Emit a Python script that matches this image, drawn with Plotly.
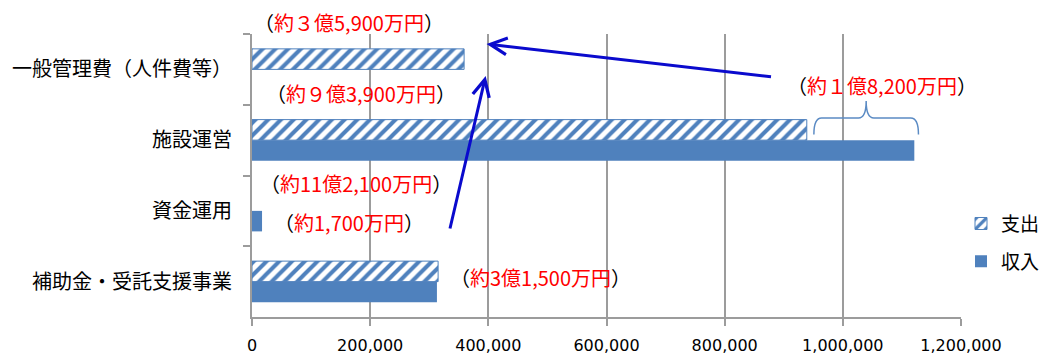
import plotly.graph_objects as go

# ---- data (thousand yen) ----
categories = ["一般管理費（人件費等）", "施設運営", "資金運用", "補助金・受託支援事業"]
expense = [359000, 939000, None, 315000]      # 支出
income = [None, 1121000, 17000, 313000]       # 収入
x_tick_vals = [0, 200000, 400000, 600000, 800000, 1000000, 1200000]
x_tick_text = ["0", "200,000", "400,000", "600,000", "800,000", "1,000,000", "1,200,000"]
note_texts = ["約３億5,900万円", "約９億3,900万円", "約11億2,100万円",
              "約1,700万円", "約3億1,500万円", "約１億8,200万円"]

BLUE = "#4F81BD"
ARROW = "#0A0ACD"
GRID = "#9C9C9C"
RED = "#FF0000"

fig = go.Figure()
fig.add_trace(go.Bar(
    name="支出", y=categories, x=expense, orientation="h",
    marker=dict(color="white", line=dict(color=BLUE, width=1),
                pattern=dict(shape="/", fgcolor=BLUE, bgcolor="white",
                             size=9, solidity=0.45, fillmode="replace")),
    legendgroup="a",
))
fig.add_trace(go.Bar(
    name="収入", y=categories, x=income, orientation="h",
    marker=dict(color=BLUE, line=dict(color=BLUE, width=0)),
    legendgroup="b",
))

# annotation placements (x in data units; y in category index units or paper)
note_pos = [
    (164000, 1.039, "paper"),
    (184500, 0.334, "y"),
    (176000, 1.606, "y"),
    (164000, 2.171, "y"),
    (489000, 2.935, "y"),
    (1066000, 0.221, "y"),
]
annotations = []
for txt, (ax_, ay_, yr) in zip(note_texts, note_pos):
    annotations.append(dict(
        x=ax_, y=ay_, xref="x", yref=yr, showarrow=False,
        text=f"（<span style='color:{RED}'>{txt}</span>）",
        font=dict(family="Noto Sans CJK JP", size=20, color="#000000"),
        xanchor="center", yanchor="middle",
    ))

# arrows: (head_x, head_y, tail_x, tail_y)
arrows = [
    (397000, -0.359, 881000, 0.108),
    (395500, 0.094, 334500, 2.270),
]
for hx, hy, tx, ty in arrows:
    annotations.append(dict(
        x=hx, y=hy, xref="x", yref="y", ax=tx, ay=ty, axref="x", ayref="y",
        text="", showarrow=True, arrowhead=5, arrowsize=1.1, arrowwidth=3,
        arrowcolor=ARROW, standoff=0, startstandoff=0,
    ))

# brace spanning from expense end to income end of 施設運営
bx0 = expense[1] + 12000
bx1 = income[1] + 7000
bm = (bx0 + bx1) / 2
r = 13000
yb, yh, yp = 0.645, 0.703, 0.763
brace = (f"M {bx0},{yb} Q {bx0},{yh} {bx0 + r},{yh} L {bm - r},{yh} "
         f"Q {bm},{yh} {bm},{yp} Q {bm},{yh} {bm + r},{yh} "
         f"L {bx1 - r},{yh} Q {bx1},{yh} {bx1},{yb}")
fig.add_shape(type="path", path=brace, xref="x", yref="paper",
              line=dict(color="#5B8BC4", width=1.5))

fig.update_layout(
    width=1060, height=356,
    margin=dict(l=252, r=99, t=34, b=39, autoexpand=False),
    paper_bgcolor="white", plot_bgcolor="white",
    barmode="group", bargap=0.42, bargroupgap=0,
    annotations=annotations,
    showlegend=True,
    legend=dict(x=1.0, y=0.397, xanchor="left", yanchor="top",
                font=dict(family="Noto Sans CJK JP", size=19, color="#000000"),
                itemwidth=30, tracegroupgap=10, traceorder="grouped",
                bgcolor="rgba(0,0,0,0)"),
    font=dict(family="Noto Sans CJK JP"),
)
fig.update_xaxes(
    range=[0, 1200000], tickvals=x_tick_vals, ticktext=x_tick_text,
    showgrid=True, gridcolor=GRID, gridwidth=1.8,
    showline=True, linecolor=GRID, linewidth=1.8,
    ticks="outside", ticklen=7, tickcolor=GRID, tickwidth=1.8,
    tickfont=dict(family="DejaVu Sans", size=16, color="#000000"),
    ticklabelstandoff=6, zeroline=False, automargin=False,
)
fig.update_yaxes(
    range=[3.5, -0.5], type="category",
    showgrid=False, showline=True, linecolor=GRID, linewidth=1.8,
    ticks="outside", ticklen=7, tickcolor=GRID, tickwidth=1.8,
    tickson="boundaries", automargin=False,
    tickfont=dict(family="Noto Sans CJK JP", size=20, color="#000000"),
    ticklabelstandoff=14,
)

fig.write_html("out.html")
